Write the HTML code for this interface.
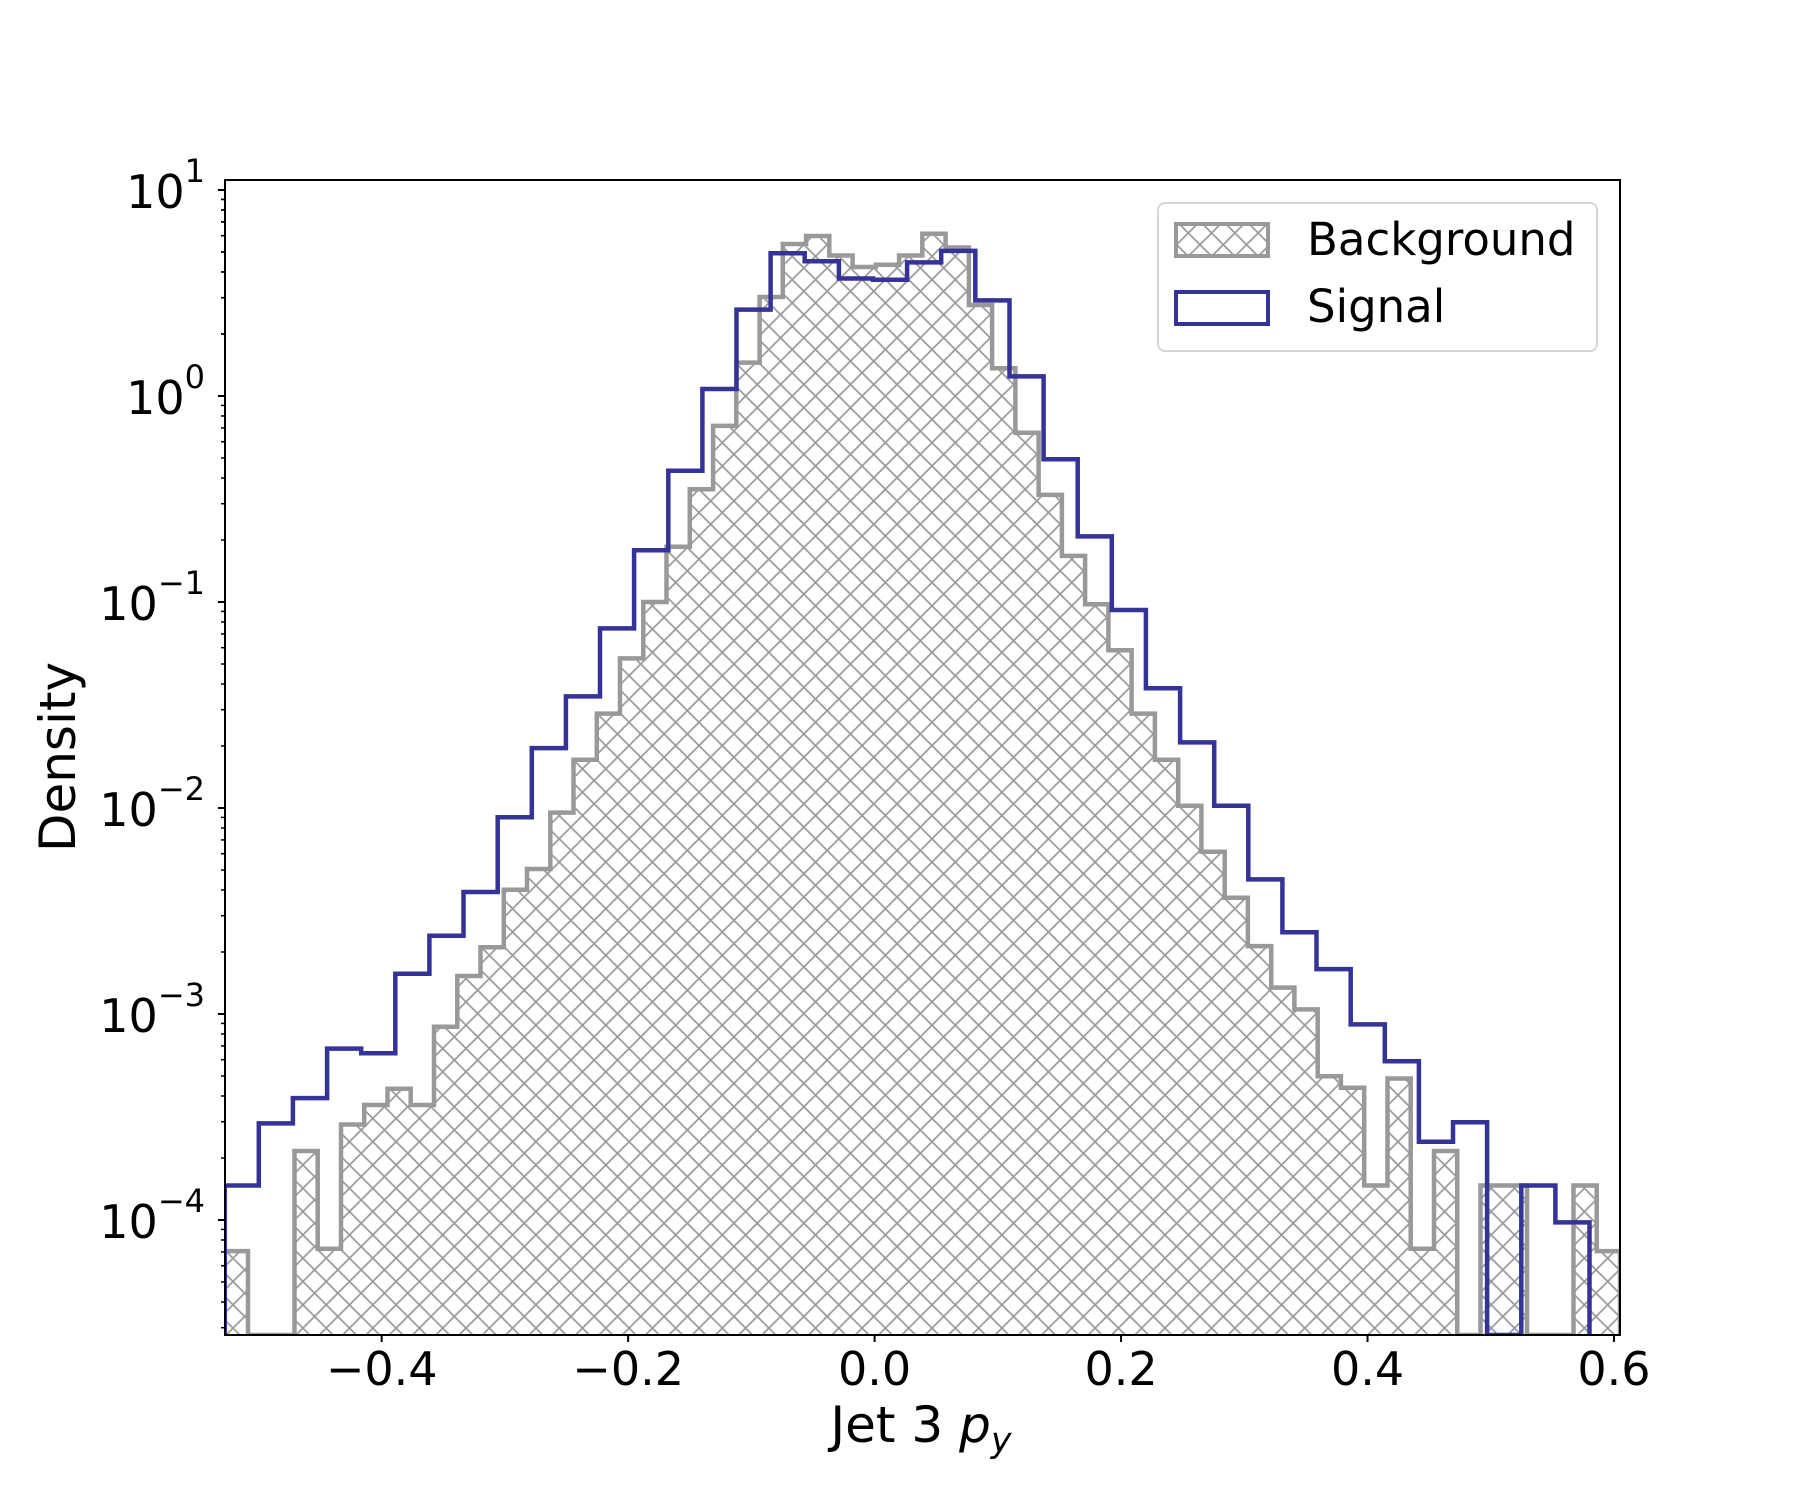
<!DOCTYPE html>
<html><head><meta charset="utf-8"><style>
html,body{margin:0;padding:0;background:#fff;}
svg{display:block;font-family:"DejaVu Sans","Liberation Sans",sans-serif;}
</style></head><body>
<svg id="s" width="1801" height="1500" viewBox="0 0 1801 1500" xmlns="http://www.w3.org/2000/svg">
<defs>
<pattern id="h" patternUnits="userSpaceOnUse" width="23.3" height="23.3">
<path d="M0,0L23.3,23.3M23.3,0L0,23.3M-2,21.3L2,25.3M21.3,-2L25.3,2" stroke="#999" stroke-width="1.7" fill="none"/>
</pattern>
<clipPath id="c"><rect x="225" y="180" width="1395" height="1155"/></clipPath>
</defs>
<rect width="1801" height="1500" fill="#fff"/>
<g id="plot" clip-path="url(#c)"></g>
<rect x="225" y="180" width="1395" height="1155" fill="none" stroke="#000" stroke-width="2"/>
<g id="ticks" stroke="#000"></g>
<g id="labels" font-size="46" fill="#000"></g>
<text x="75" y="757" font-size="50" text-anchor="middle" transform="rotate(-90 75 757)">Density</text>
<text x="921" y="1442" font-size="50" text-anchor="middle">Jet 3 <tspan font-style="italic">p</tspan><tspan font-style="italic" font-size="35" dy="10">y</tspan></text>
<g>
<rect x="1158" y="203" width="439" height="148" rx="7" fill="#fff" stroke="#d6d6d6" stroke-width="2"/>
<rect x="1176" y="224" width="92" height="32" fill="url(#h)" stroke="#999" stroke-width="4"/>
<rect x="1176" y="292" width="92" height="32" fill="none" stroke="#333399" stroke-width="4"/>
<text x="1307" y="255" font-size="45">Background</text>
<text x="1307" y="322" font-size="45">Signal</text>
</g>
</svg>
<script>
var NS="http://www.w3.org/2000/svg";
function el(t,a,p){var e=document.createElementNS(NS,t);for(var k in a)e.setAttribute(k,a[k]);p.appendChild(e);return e;}
var B=1335;
var bg=[1087,null,null,1000,1085,977,960,946,960,892,848,823,773,755,706,660,620,572,523,475,425,370,315,258,212,205,222,232,230,222,203,215,265,320,376,430,483,525,565,620,660,700,740,780,822,858,877,935,945,1030,937,1085,1000,null,1030,1030,null,null,1030,1087];
var sg=[1030,976,954,911,915,846,813,775,710,650,605,546,478,409,338,269,220,227,242,243,228,218,261,327,399,466,530,598,645,700,764,810,842,890,922,992,975,null,1030,1062];
function path(vals,x0,w){var d="M"+x0+","+B;for(var i=0;i<vals.length;i++){var y=vals[i]==null?B:vals[i]*1.151;var xa=x0+i*w,xb=x0+(i+1)*w;d+="L"+xa.toFixed(1)+","+y.toFixed(1)+"L"+xb.toFixed(1)+","+y.toFixed(1);}d+="L"+(x0+vals.length*w).toFixed(1)+","+B;return d;}
var g=document.getElementById("plot");
el("path",{d:path(bg,224.7,23.255),fill:"url(#h)",stroke:"none"},g);
el("path",{d:path(bg,224.7,23.255),fill:"none",stroke:"#999","stroke-width":4.5},g);
el("path",{d:path(sg,224.7,34.12),fill:"none",stroke:"#333399","stroke-width":4.5},g);
var t=document.getElementById("ticks"),L=document.getElementById("labels");
var xs=[-0.4,-0.2,0,0.2,0.4,0.6],xl=["\u22120.4","\u22120.2","0.0","0.2","0.4","0.6"];
for(var i=0;i<6;i++){var x=874.6+xs[i]*1232.3;el("line",{x1:x,x2:x,y1:1335,y2:1342,"stroke-width":2},t);var tx=el("text",{x:x,y:1385,"text-anchor":"middle"},L);tx.textContent=xl[i];}
for(var e=1;e>=-5;e--){var y0=190+(1-e)*206;
 if(e>=-4){el("line",{x1:218,x2:225,y1:y0,y2:y0,"stroke-width":2},t);
 var tx=el("text",{x:205,y:y0+18,"text-anchor":"end"},L);
 var a=el("tspan",{},tx);a.textContent="10";var b=el("tspan",{"font-size":32,dy:-26},tx);b.textContent=(e<0?"\u2212":"")+Math.abs(e);}
 for(var m=2;m<=9;m++){var y=y0-Math.log10(m)*206; if(e===1) continue; if(y>180&&y<1335) el("line",{x1:221,x2:225,y1:y,y2:y,"stroke-width":1.5},t);}
}
for(var m=2;m<=9;m++){var y=396-Math.log10(m)*206;el("line",{x1:221,x2:225,y1:y,y2:y,"stroke-width":1.5},t);}
</script>
</body></html>
